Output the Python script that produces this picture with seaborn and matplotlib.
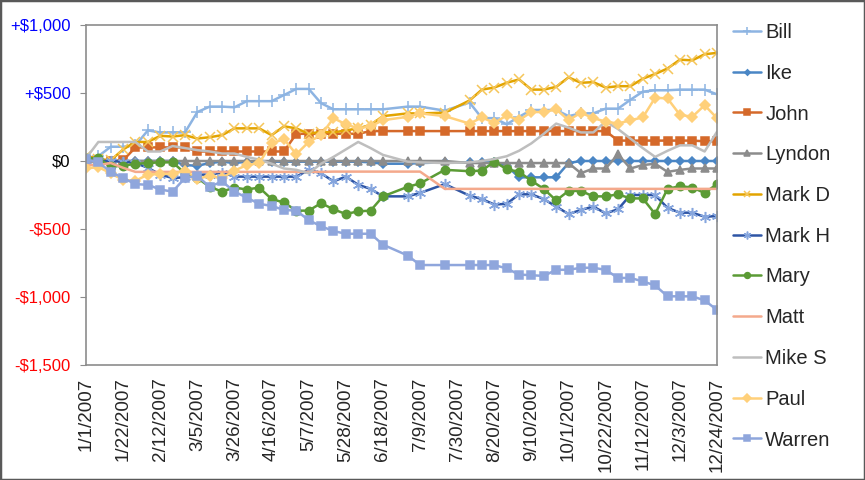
import numpy as np
import pandas as pd
import matplotlib
matplotlib.use("Agg")
import matplotlib.pyplot as plt
import seaborn as sns
from matplotlib.patches import Rectangle

# weekly standings, 2007 (None = no game that week)
weeks = pd.date_range("2007-01-01", periods=52, freq="7D")

bill = [0, 35, 105, 105, 115, 225, 210, 210, 210, 360, 400, 400, 395, 440, 440, 440, 485, 530, 530, 425,
        380, 380, 380, 380, 380, None, 400, 400, None, 370, None, 430, 315, 315, 270, 325, 375, 375, 375, 330,
        350, 350, 385, 385, 450, 510, 520, 520, 525, 525, 525, 490]
ike = [0, 0, 0, 0, 0, 0, 0, 0, -30, -35, -15, -5, -15, -5, -5, -5, -5, -5, -5, -5,
       -5, -5, -5, -10, -20, None, -20, -15, None, -10, None, -10, -10, -10, -35, -120, -120, -120, -120, -15,
       0, 0, 0, 0, 0, 0, 0, 0, 0, 0, 0, 0]
john = [0, 0, 0, 5, 100, 100, 100, 100, 100, 70, 70, 70, 70, 70, 70, 70, 70, 200, 200, 200,
        200, 200, 200, 220, 220, None, 220, 220, None, 220, None, 220, 220, 220, 220, 220, 220, 220, 220, 220,
        220, 220, 220, 150, 150, 150, 150, 150, 150, 150, 145, 145]
lyndon = [0, 0, 0, 0, 0, 0, 0, 0, 0, 0, 0, 0, 0, 0, 0, 0, 0, 0, 0, 0,
          0, 0, 0, 0, 0, None, 0, 0, None, 0, None, -15, -15, -15, -15, -15, -15, -15, -15, -15,
          -90, -55, -55, 50, -55, -30, -20, -80, -65, -55, -55, -55]
mark_d = [40, 15, 5, 85, 140, 140, 185, 180, 190, 165, 175, 190, 240, 240, 240, 190, 255, 240, 200, 215,
          210, 225, 240, 265, 330, None, 350, 350, None, 355, None, 445, 525, 540, 575, 600, 525, 525, 545, 615,
          575, 580, 540, 550, 550, 605, 640, 680, 745, 740, 785, 795]
mark_h = [0, 0, 0, -5, -15, -50, -100, -125, -120, -100, -100, -85, -115, -115, -115, -115, -115, -115, -65, -90,
          -150, -115, -175, -205, -260, None, -260, -235, None, -170, None, -255, -280, -320, -315, -245, -245, -280, -335, -390,
          -360, -335, -385, -355, -250, -250, -250, -345, -380, -380, -410, -405]
mary = [20, 20, -40, -35, -20, -15, -10, -10, -90, -125, -190, -225, -195, -210, -195, -280, -305, -365, -365, -310,
        -355, -390, -370, -365, -260, None, -190, -165, None, -65, None, -75, -70, -5, -60, -80, -145, -205, -290, -220,
        -220, -260, -260, -245, -275, -275, -390, -205, -185, -195, -235, -170]
matt = [-30, -30, -15, -50, -80, -80, -80, -80, -80, -80, -80, -80, -80, -80, -80, -80, -80, -80, -80, -80,
        -78, -78, -78, -78, -78, None, -78, -78, None, -205, None, -205, -205, -205, -205, -205, -205, -205, -205, -205,
        -205, -205, -205, -205, -205, -205, -205, -205, -205, -205, -205, -205]
mike_s = [20, 140, 140, 140, 140, 70, 70, 110, 95, 80, 70, 55, 55, 30, 10, -20, -55, -65, -90, -20,
          30, 85, 140, 95, 45, None, -5, -10, None, -15, None, -10, 0, 15, 35, 75, 130, 200, 275, 245,
          210, 210, 290, 235, 165, 95, 30, 75, 115, 115, 70, 215]
paul = [-55, -45, -90, -140, -145, -100, -95, -95, -70, -130, -110, -125, -70, -30, -15, 130, 160, 50, 140, 190,
        315, 270, 240, 255, 300, None, 325, 350, None, 330, None, 275, 320, 280, 335, 300, 360, 360, 380, 300,
        355, 315, 290, 275, 300, 320, 465, 460, 340, 325, 410, 315]
warren = [12, -10, -80, -125, -170, -175, -210, -225, -125, -110, -190, -150, -225, -270, -315, -330, -360, -365, -435, -480,
          -515, -535, -535, -535, -615, None, -695, -765, None, -765, None, -765, -765, -765, -790, -835, -840, -845, -800, -800,
          -785, -785, -800, -860, -860, -885, -915, -995, -995, -995, -1025, -1095]

names = ["Bill", "Ike", "John", "Lyndon", "Mark D", "Mark H", "Mary", "Matt", "Mike S", "Paul", "Warren"]
series = [bill, ike, john, lyndon, mark_d, mark_h, mary, matt, mike_s, paul, warren]

tick_labels = ["1/1/2007", "1/22/2007", "2/12/2007", "3/5/2007", "3/26/2007", "4/16/2007",
               "5/7/2007", "5/28/2007", "6/18/2007", "7/9/2007", "7/30/2007", "8/20/2007",
               "9/10/2007", "10/1/2007", "10/22/2007", "11/12/2007", "12/3/2007", "12/24/2007"]
y_ticks = [-1500, -1000, -500, 0, 500, 1000]
y_labels = ["-$1,500", "-$1,000", "-$500", "$0", "+$500", "+$1,000"]
y_colors = ["#FF0000", "#FF0000", "#FF0000", "black", "#0000FF", "#0000FF"]

# line colour, marker, marker size, marker edge colour
styles = {
    "Bill":   ("#8DB4E2", "+", 8, "#8DB4E2"),
    "Ike":    ("#4A86C5", "D", 4, "#4A86C5"),
    "John":   ("#D5692A", "s", 6, "#D5692A"),
    "Lyndon": ("#8C8C8C", "^", 6, "#8C8C8C"),
    "Mark D": ("#E2A400", "x", 7, "#F5C65A"),
    "Mark H": ("#2E55A5", (6, 2, 0), 8, "#86A6DE"),
    "Mary":   ("#5B9B35", "o", 6, "#5B9B35"),
    "Matt":   ("#F4A98C", None, 0, "#F4A98C"),
    "Mike S": ("#BEBEBE", None, 0, "#BEBEBE"),
    "Paul":   ("#FFD07A", "D", 5.5, "#FFD07A"),
    "Warren": ("#8FA6DC", "s", 6, "#8FA6DC"),
}

sns.set_style("white")
plt.rcParams["font.family"] = ["Liberation Sans", "DejaVu Sans"]

fig = plt.figure(figsize=(8.65, 4.8), dpi=100)
ax = fig.add_axes([86 / 865, 1 - 365 / 480, (717 - 86) / 865, (365 - 25) / 480])

for name, vals in zip(names, series):
    color, marker, ms, mec = styles[name]
    df = pd.DataFrame({"date": weeks, "value": pd.array(vals, dtype="Float64")}).dropna()
    df["value"] = df["value"].astype(float)
    sns.lineplot(data=df, x="date", y="value", ax=ax, color=color, lw=1.8,
                 marker=marker, markersize=ms, markeredgecolor=mec,
                 markerfacecolor=color, markeredgewidth=1.1, label=name)

ax.set_xlim(weeks[0], weeks[-1])
ax.set_ylim(-1500, 1000)
ax.set_xlabel("")
ax.set_ylabel("")

ax.set_xticks(weeks[::3])
ax.set_xticklabels(tick_labels, rotation=90, fontsize=13.5)
ax.tick_params(axis="x", length=0, pad=9)

ax.set_yticks(y_ticks)
ax.set_yticklabels(y_labels, fontsize=12)
ax.tick_params(axis="y", length=4, color="#8C8C8C", pad=7, left=True)
for lbl, c in zip(ax.get_yticklabels(), y_colors):
    lbl.set_color(c)

for sp in ax.spines.values():
    sp.set_color("#8C8C8C")
    sp.set_linewidth(1.2)

handles, labels = ax.get_legend_handles_labels()
ax.legend(handles, labels, loc="upper left", bbox_to_anchor=(733 / 865, 1 - 23 / 480),
          bbox_transform=fig.transFigure, frameon=False, fontsize=14.5,
          handlelength=1.4, handletextpad=0.2, labelspacing=1.08,
          borderpad=0, borderaxespad=0, markerscale=0.7)

fig.patches.append(Rectangle((0, 0), 1, 1, transform=fig.transFigure, fill=False,
                             edgecolor="#595959", lw=2.5))

fig.savefig("out.png", dpi=100)
